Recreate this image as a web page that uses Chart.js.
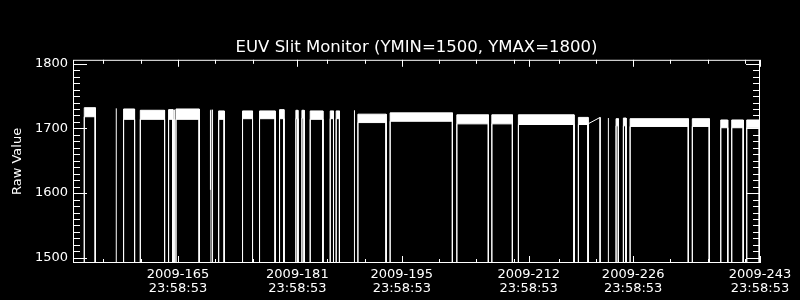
<!DOCTYPE html>
<html>
<head>
<meta charset="utf-8">
<script src="https://cdn.jsdelivr.net/npm/chart.js@4.4.1/dist/chart.umd.min.js"></script>
<style>
  html, body { margin: 0; padding: 0; background: #000; }
  #wrap { width: 800px; height: 300px; }
</style>
</head>
<body>
<div id="wrap"><canvas id="myChart" width="800" height="300"></canvas></div>
<script>
// x values are day-of-year 2009 (fractional); labels sit at 23:58:53 of the day
const TOD = (23 * 3600 + 58 * 60 + 53) / 86400
const xMin = 151.93
const xMax = 243 + TOD
const yMin = 1492
const yMax = 1806
const dropValue = 0 // data falls out of range at every gap

const xMajorDays = [165, 181, 195, 212, 226, 243]
const xMinorDays = [155, 160, 170, 175, 185, 190, 200, 205, 210, 216, 221, 231, 236, 241]
const yMajor = [1500, 1600, 1700, 1800]
const yMinorStep = 10

// data segments (start day, end day, top and bottom of the noise band)
const segStart = [153.44, 158.71, 160.95, 164.74, 165.73, 171.45, 174.65, 176.93, 179.61, 181.80, 182.61, 183.72, 186.40, 187.20, 190.11, 194.43, 203.37, 208.06, 211.62, 219.66, 224.71, 225.69, 226.59, 234.93, 238.74, 240.21, 242.22]
const segEnd   = [154.92, 160.18, 164.20, 165.33, 168.85, 172.20, 175.99, 179.03, 180.20, 182.07, 182.91, 185.42, 186.84, 187.64, 193.90, 202.78, 207.60, 210.82, 219.08, 220.96, 225.02, 226.05, 234.40, 237.21, 239.67, 241.76, 243.91]
const segHigh  = [1732, 1730, 1728, 1729, 1730, 1727, 1727, 1727, 1729, 1728, 1728, 1727, 1727, 1727, 1722, 1724, 1721, 1721, 1721, 1717, 1715, 1716, 1715, 1715, 1713, 1713, 1713]
const segLow   = [1718, 1714, 1714, 1714, 1714, 1714, 1715, 1715, 1715, 1715, 1716, 1714, 1715, 1715, 1709, 1711, 1707, 1707, 1706, 1706, 1704, 1704, 1703, 1703, 1701, 1701, 1701]

// single samples between gaps
const spikeX      = [157.73, 165.54, 170.35, 170.42, 170.63, 189.65, 223.68]
const spikeTop    = [1731, 1729, 1728, 1729, 1729, 1728, 1716]
const spikeBottom = [dropValue, dropValue, 1605, dropValue, dropValue, dropValue, dropValue]

// line drawn across a short gap
const linkX = [220.96, 222.57, 222.57]
const linkY = [1707, 1717, dropValue]

let upper = []
let lower = []
segStart.forEach((s, i) => {
    let e = segEnd[i]
    upper.push({x: s, y: dropValue}, {x: s, y: segHigh[i]}, {x: e, y: segHigh[i]}, {x: e, y: dropValue})
    lower.push({x: s, y: dropValue}, {x: s, y: segLow[i]}, {x: e, y: segLow[i]}, {x: e, y: dropValue})
})
let spikes = []
spikeX.forEach((x, i) => {
    spikes.push({x: x, y: spikeBottom[i]}, {x: x, y: spikeTop[i]}, {x: x, y: null})
})
let link = linkX.map((x, i) => ({x: x, y: linkY[i]}))

const lineStyle = {
    borderColor: "#ffffff",
    backgroundColor: "#ffffff",
    borderWidth: 1,
    pointRadius: 0,
    tension: 0,
    spanGaps: false,
    clip: 0
}

// box and inward tick marks on all four sides
const frame = {
    id: "frame",
    afterDraw(chart) {
        const {ctx, chartArea: a, scales: {x, y}} = chart
        ctx.save()
        ctx.strokeStyle = "#ffffff"
        ctx.lineWidth = 1
        ctx.strokeRect(a.left + 0.5, a.top + 0.5, a.width - 1, a.height - 1)
        ctx.beginPath()
        x.ticks.forEach(t => {
            let px = Math.round(x.getPixelForValue(t.value)) + 0.5
            let len = xMajorDays.includes(Math.round(t.value - TOD)) ? 7 : 4
            ctx.moveTo(px, a.bottom)
            ctx.lineTo(px, a.bottom - len)
            ctx.moveTo(px, a.top)
            ctx.lineTo(px, a.top + len)
        })
        y.ticks.forEach(t => {
            let py = Math.round(y.getPixelForValue(t.value)) + 0.5
            let len = yMajor.includes(t.value) ? 14 : 7
            ctx.moveTo(a.left, py)
            ctx.lineTo(a.left + len, py)
            ctx.moveTo(a.right, py)
            ctx.lineTo(a.right - len, py)
        })
        ctx.stroke()
        ctx.restore()
    }
}

Chart.defaults.font.family = "'DejaVu Sans', sans-serif"
Chart.defaults.color = "#ffffff"

const ctx = document.getElementById("myChart")
let qraf = new Chart(ctx, {
    type: "line",
    data: {
        datasets: [
            {...lineStyle, label: "upper", data: upper, fill: "+1"},
            {...lineStyle, label: "lower", data: lower, fill: false},
            {...lineStyle, label: "spikes", data: spikes, fill: false},
            {...lineStyle, label: "link", data: link, fill: false}
        ]
    },
    options: {
        responsive: false,
        animation: false,
        layout: {padding: {left: 0, right: 40, top: 0, bottom: 0}},
        plugins: {
            legend: {display: false},
            tooltip: {enabled: false},
            title: {
                display: true,
                text: "EUV Slit Monitor (YMIN=1500, YMAX=1800)",
                color: "#ffffff",
                fullSize: false,
                font: {size: 16.5, weight: "normal"},
                padding: {top: 38, bottom: 2}
            }
        },
        scales: {
            x: {
                type: "linear",
                min: xMin,
                max: xMax,
                grid: {display: false, drawTicks: false},
                border: {display: false},
                afterBuildTicks: scale => {
                    let vals = xMajorDays.concat(xMinorDays).sort((a, b) => a - b)
                    scale.ticks = vals.map(d => ({value: d + TOD}))
                },
                afterFit: scale => { scale.height = 37 },
                ticks: {
                    autoSkip: false,
                    maxRotation: 0,
                    padding: 5,
                    font: {size: 13, lineHeight: 1.05},
                    callback: value => {
                        let d = Math.round(value - TOD)
                        return xMajorDays.includes(d) ? ["2009-" + d, "23:58:53"] : ""
                    }
                }
            },
            y: {
                min: yMin,
                max: yMax,
                grid: {display: false, drawTicks: false},
                border: {display: false},
                afterBuildTicks: scale => {
                    let vals = []
                    for (let v = yMajor[0]; v <= yMajor[yMajor.length - 1]; v += yMinorStep) vals.push({value: v})
                    scale.ticks = vals
                },
                afterFit: scale => { scale.width = 73 },
                title: {
                    display: true,
                    text: "Raw Value",
                    color: "#ffffff",
                    font: {size: 13},
                    padding: {top: 10, bottom: 0}
                },
                ticks: {
                    autoSkip: false,
                    padding: 5,
                    font: {size: 13},
                    callback: value => yMajor.includes(value) ? value : ""
                }
            }
        }
    },
    plugins: [frame]
})
</script>
</body>
</html>
